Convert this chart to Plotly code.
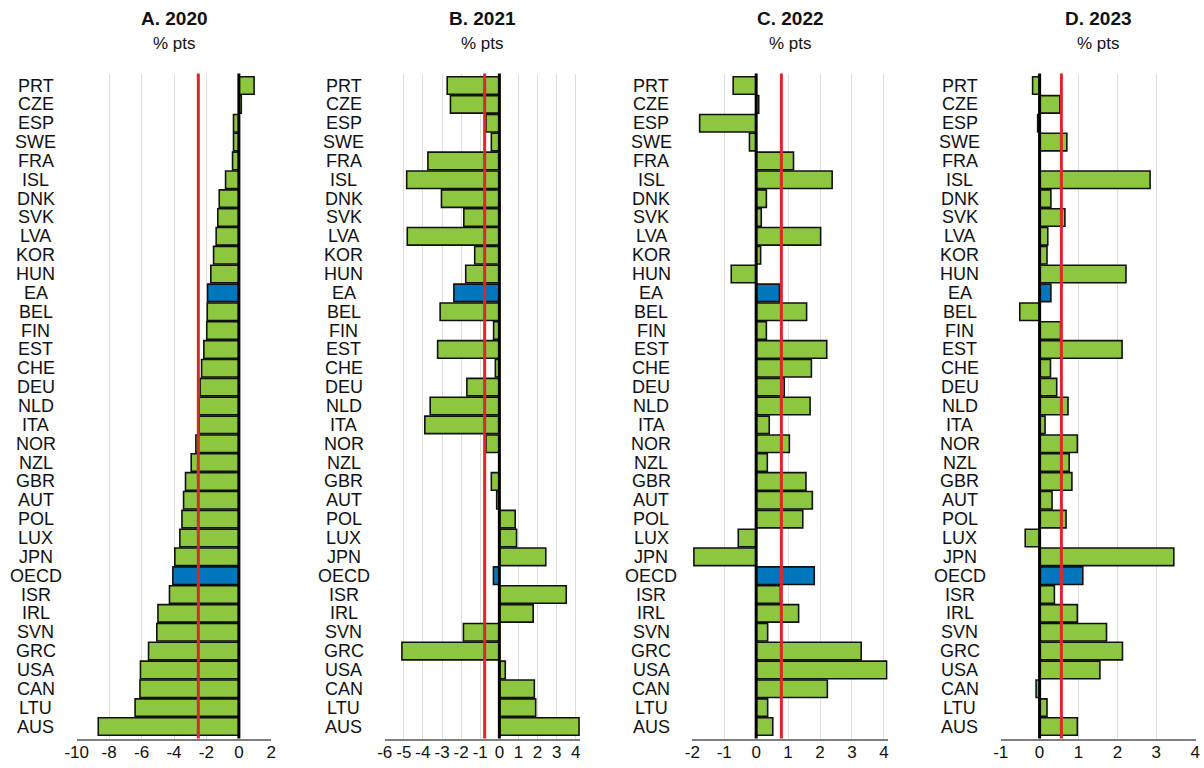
import plotly.graph_objects as go

categories = ["PRT", "CZE", "ESP", "SWE", "FRA", "ISL", "DNK", "SVK", "LVA", "KOR", "HUN",
              "EA", "BEL", "FIN", "EST", "CHE", "DEU", "NLD", "ITA", "NOR", "NZL", "GBR",
              "AUT", "POL", "LUX", "JPN", "OECD", "ISR", "IRL", "SVN", "GRC", "USA", "CAN",
              "LTU", "AUS"]

values_2020 = [0.94, 0.15, -0.33, -0.33, -0.39, -0.82, -1.21, -1.30, -1.40, -1.56, -1.73,
               -1.93, -1.95, -1.98, -2.16, -2.30, -2.39, -2.45, -2.45, -2.65, -2.94, -3.29,
               -3.41, -3.51, -3.64, -3.95, -4.07, -4.28, -4.99, -5.06, -5.57, -6.07, -6.10,
               -6.40, -8.67]
values_2021 = [-2.73, -2.56, -0.70, -0.42, -3.74, -4.85, -3.03, -1.86, -4.82, -1.29, -1.76,
               -2.38, -3.10, -0.30, -3.23, -0.21, -1.70, -3.62, -3.90, -0.70, 0.0, -0.42,
               -0.14, 0.83, 0.90, 2.43, -0.31, 3.50, 1.77, -1.88, -5.10, 0.31, 1.83,
               1.90, 4.17]
values_2022 = [-0.72, 0.08, -1.77, -0.21, 1.17, 2.38, 0.32, 0.16, 2.02, 0.14, -0.78,
               0.73, 1.58, 0.32, 2.21, 1.73, 0.88, 1.69, 0.41, 1.04, 0.35, 1.56,
               1.76, 1.46, -0.56, -1.95, 1.82, 0.76, 1.33, 0.36, 3.29, 4.09, 2.23,
               0.36, 0.52]
values_2023 = [-0.18, 0.52, -0.05, 0.70, 0.0, 2.84, 0.29, 0.65, 0.21, 0.19, 2.22,
               0.29, -0.51, 0.54, 2.12, 0.28, 0.44, 0.73, 0.14, 0.97, 0.76, 0.83,
               0.32, 0.68, -0.37, 3.45, 1.11, 0.38, 0.97, 1.72, 2.13, 1.55, -0.09,
               0.19, 0.97]

averages = [-2.50, -0.77, 0.79, 0.56]
titles = ["A. 2020", "B. 2021", "C. 2022", "D. 2023"]
subtitle = "% pts"
highlight = ["EA", "OECD"]

x_ranges = [[-10, 2], [-6, 4.22], [-2, 4.12], [-1, 4.02]]
x_ticks = [list(range(-10, 3, 2)), list(range(-6, 5)), list(range(-2, 5)), list(range(-1, 5))]

GREEN = "#8DC63F"
BLUE = "#0077BD"
RED = "#E0262D"
W, H = 1204, 768
domains_px = [(76.7, 271.3), (384.7, 580.0), (692.3, 887.7), (1000.7, 1196.0)]
y_dom = [(768 - 738.5) / H, (768 - 73.5) / H]

fig = go.Figure()
series = [values_2020, values_2021, values_2022, values_2023]
annotations = []
shapes = []
for i, vals in enumerate(series):
    n = i + 1
    xa = "x" if n == 1 else f"x{n}"
    ya = "y" if n == 1 else f"y{n}"
    colors = [BLUE if c in highlight else GREEN for c in categories]
    fig.add_trace(go.Bar(
        x=vals, y=categories, orientation="h", xaxis=xa, yaxis=ya,
        marker=dict(color=colors, line=dict(color="#111111", width=1.6)),
        showlegend=False, hoverinfo="x+y"))
    d0, d1 = domains_px[i]
    fig.layout[f"xaxis{'' if n == 1 else n}"] = dict(
        domain=[d0 / W, d1 / W], range=x_ranges[i], anchor=ya,
        tickmode="array", tickvals=x_ticks[i], ticktext=[str(t) for t in x_ticks[i]],
        showgrid=True, gridcolor="#DCDCDC", gridwidth=1, zeroline=False,
        showline=True, linecolor="#7F7F7F", linewidth=1.5, ticks="",
        ticklabelstandoff=-3,
        tickfont=dict(family="Liberation Sans, Arial", size=17, color="#111111"),
        automargin=False, fixedrange=True)
    fig.layout[f"yaxis{'' if n == 1 else n}"] = dict(
        domain=y_dom, anchor=xa, type="category",
        categoryorder="array", categoryarray=categories, autorange="reversed",
        showticklabels=False, showgrid=False, zeroline=False, showline=False,
        automargin=False, fixedrange=True)
    # zero line
    shapes.append(dict(type="line", xref=xa, yref=f"{ya} domain", x0=0, x1=0, y0=0, y1=1,
                       line=dict(color="#000000", width=3), layer="above"))
    # average line
    shapes.append(dict(type="line", xref=xa, yref=f"{ya} domain", x0=averages[i], x1=averages[i],
                       y0=0, y1=1, line=dict(color=RED, width=3), layer="above"))
    # titles
    annotations.append(dict(text=f"<b>{titles[i]}</b>", xref=f"{xa} domain", yref="paper",
                            x=0.5, y=1 - 18 / H, xanchor="center", yanchor="middle",
                            showarrow=False,
                            font=dict(family="Liberation Sans, Arial", size=19, color="#111111")))
    annotations.append(dict(text=subtitle, xref=f"{xa} domain", yref="paper",
                            x=0.5, y=1 - 43 / H, xanchor="center", yanchor="middle",
                            showarrow=False,
                            font=dict(family="Liberation Sans, Arial", size=17, color="#111111")))
    # category labels
    for c in categories:
        annotations.append(dict(text=c, xref=f"{xa} domain", yref=ya, x=-0.21, y=c,
                                xanchor="center", yanchor="middle", showarrow=False,
                                font=dict(family="Liberation Sans, Arial", size=18, color="#111111")))

fig.update_layout(
    width=W, height=H, margin=dict(l=0, r=0, t=0, b=0, pad=0, autoexpand=False),
    paper_bgcolor="white", plot_bgcolor="white",
    bargap=0.07, annotations=annotations, shapes=shapes,
)

fig.write_html("out.html", config={"displayModeBar": False},
               post_script="document.body.style.margin='0px';document.body.style.overflow='hidden';")
